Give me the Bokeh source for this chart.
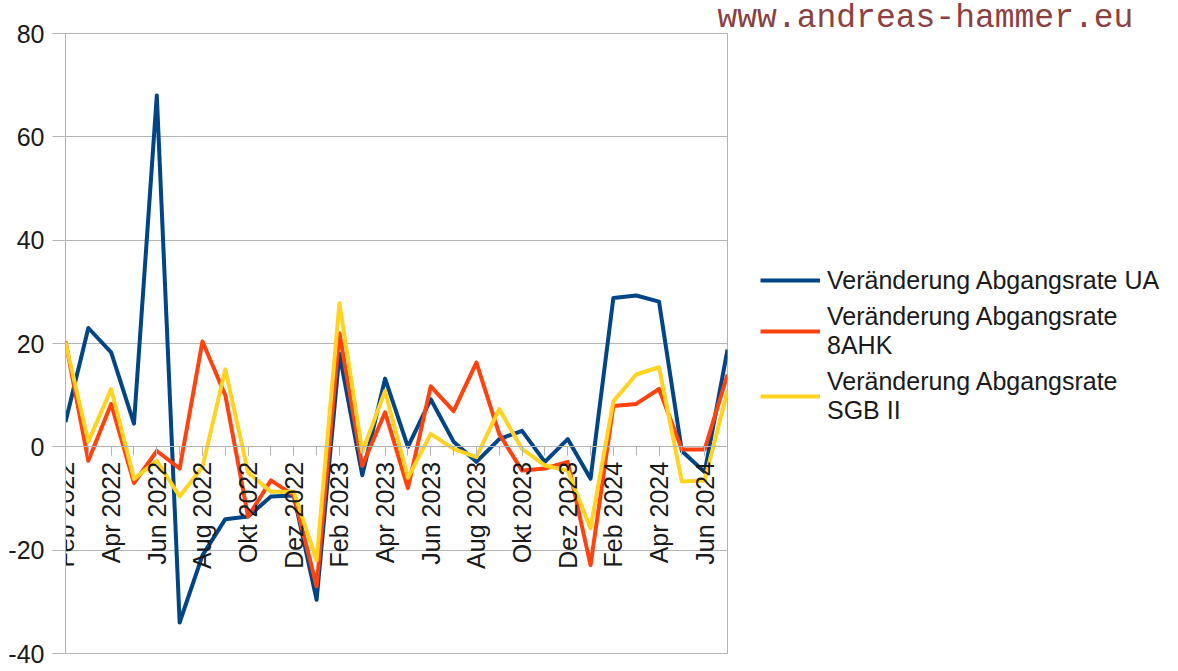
from math import pi
from bokeh.plotting import figure
from bokeh.models import (FixedTicker, Legend, LegendItem, Range1d, Title)
from bokeh.embed import file_html
from bokeh.resources import INLINE

months = ["Feb 2022", "Mär 2022", "Apr 2022", "Mai 2022", "Jun 2022", "Jul 2022",
          "Aug 2022", "Sep 2022", "Okt 2022", "Nov 2022", "Dez 2022", "Jan 2023",
          "Feb 2023", "Mär 2023", "Apr 2023", "Mai 2023", "Jun 2023", "Jul 2023",
          "Aug 2023", "Sep 2023", "Okt 2023", "Nov 2023", "Dez 2023", "Jan 2024",
          "Feb 2024", "Mär 2024", "Apr 2024", "Mai 2024", "Jun 2024", "Jul 2024"]

ua = [4.8, 23, 18.3, 4.5, 68, -34, -21, -14, -13.5, -9.6, -9.4, -29.6,
      18, -5.5, 13.2, 0, 9.2, 1, -2.9, 1.5, 3.1, -2.9, 1.5, -6.2,
      28.8, 29.3, 28.1, -0.8, -4.9, 18.8]

ahk = [20.4, -2.7, 8.3, -7, -0.8, -4.2, 20.4, 10, -13.5, -6.5, -9.4, -27,
       22, -3.7, 6.7, -8, 11.7, 6.9, 16.3, 2.5, -4.6, -4.2, -2.9, -22.9,
       7.9, 8.3, 11.2, -0.5, -0.5, 14]

sgb = [20.2, 1, 11.2, -6.2, -2.7, -9.6, -3.9, 15, -5, -8.7, -8.7, -22,
       27.8, -1, 10.8, -6, 2.5, -0.4, -2, 7.3, -0.4, -3.6, -4.6, -15.8,
       8.8, 14, 15.4, -6.7, -6.5, 10.8]

series_names = ["Veränderung Abgangsrate UA",
                "Veränderung Abgangsrate\n8AHK",
                "Veränderung Abgangsrate\nSGB II"]
series_colors = ["#004586", "#ff420e", "#ffd320"]

y_tick_values = [-40, -20, 0, 20, 40, 60, 80]
y_min, y_max = -40, 80
watermark = "www.andreas-hammer.eu"

idx = list(range(len(months)))

GRID = "#b3b3b3"
TXT = "#1a1a1a"
FONT = "Liberation Sans"

p = figure(frame_width=662, frame_height=620, output_backend="svg",
           toolbar_location=None,
           x_range=Range1d(0, len(months) - 1), y_range=Range1d(y_min, y_max),
           min_border_left=65, min_border_right=30, min_border_top=0,
           min_border_bottom=14)

renderers = []
for vals, col in zip([ua, ahk, sgb], series_colors):
    r = p.line(idx, vals, line_color=col, line_width=4, line_join="round")
    renderers.append(r)

# axes
xa = p.xaxis[0]
xa.fixed_location = 0
xa.ticker = FixedTicker(ticks=idx[::2], minor_ticks=idx)
xa.major_label_overrides = {i: months[i] for i in idx[::2]}
xa.major_label_orientation = pi / 2
xa.major_label_text_font = FONT
xa.major_label_text_font_size = "25px"
xa.major_label_text_color = TXT
xa.major_label_standoff = 6
xa.major_tick_in = 0
xa.major_tick_out = 9
xa.minor_tick_in = 0
xa.minor_tick_out = 9
xa.major_tick_line_color = GRID
xa.minor_tick_line_color = GRID
xa.axis_line_color = GRID

ya = p.yaxis[0]
ya.ticker = FixedTicker(ticks=y_tick_values)
ya.major_label_overrides = {v: str(v) for v in y_tick_values}
ya.major_label_text_font = FONT
ya.major_label_text_font_size = "25px"
ya.major_label_text_color = TXT
ya.major_label_standoff = 8
ya.major_tick_in = 0
ya.major_tick_out = 13
ya.major_tick_line_color = GRID
ya.minor_tick_line_color = None
ya.axis_line_color = GRID

p.xgrid.grid_line_color = None
p.ygrid.grid_line_color = GRID
p.ygrid.grid_line_width = 1
p.outline_line_color = GRID
p.background_fill_color = "white"
p.border_fill_color = "white"

legend = Legend(items=[LegendItem(label=n, renderers=[r])
                       for n, r in zip(series_names, renderers)],
                location=(33, 228), margin=0, padding=0, spacing=7,
                glyph_width=60, glyph_height=30, label_standoff=7,
                label_text_font=FONT, label_text_font_size="25px",
                label_text_color=TXT, border_line_color=None,
                background_fill_alpha=0)
p.add_layout(legend, "right")

title = Title(text=watermark, align="left", offset=652,
              text_font="Liberation Mono", text_font_size="33px",
              text_font_style="normal", text_color="#8b4141", standoff=-6,
              text_line_height=0.6, vertical_align="bottom")
p.add_layout(title, "above")

open("out.html", "w").write(file_html(p, INLINE))
